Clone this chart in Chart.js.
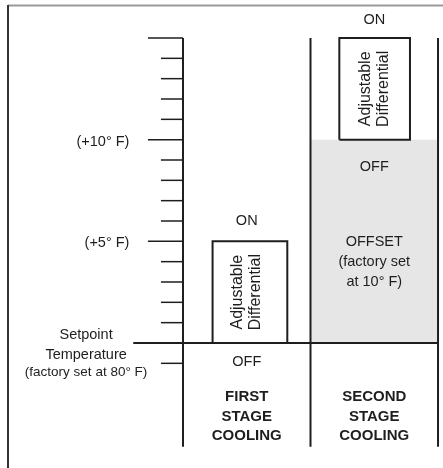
<!DOCTYPE html>
<html>
<head>
<meta charset="utf-8">
<script src="https://cdn.jsdelivr.net/npm/chart.js@4.4.0/dist/chart.umd.min.js"></script>
<style>
    html, body { margin: 0; padding: 0; background: #fff; }
    canvas { display: block; }
</style>
</head>
<body>
<canvas id="chartDiagram" width="443" height="468"></canvas>
<script>
// values are degrees F above the setpoint, x is the stage column (0..2)
const tickValues = [-1, 0, 1, 2, 3, 4, 5, 6, 7, 8, 9, 10, 11, 12, 13, 14, 15];
const majorTicks = [5, 10, 15];
const tickLabelValues = [10, 5];
const tickLabelTexts = ['(+10° F)', '(+5° F)'];
const stageNames = [['FIRST', 'STAGE', 'COOLING'], ['SECOND', 'STAGE', 'COOLING']];
const differentialFrom = [0, 10];
const differentialTo = [5, 15];
const offsetRange = [0, 10];
const offsetText = ['OFFSET', '(factory set', 'at 10° F)'];
const setpointText = ['Setpoint', 'Temperature', '(factory set at 80° F)'];
const columnEdges = [0, 1, 2];
const axisRange = [-5.1, 15];

const INK = '#1e1e1e';
const FONT = '"Liberation Sans", Arial, Helvetica, sans-serif';

function segment(x1, y1, x2, y2, width) {
    return {
        data: [{x: x1, y: y1}, {x: x2, y: y2}],
        borderColor: INK,
        borderWidth: width,
        fill: false,
        pointRadius: 0,
    };
}

const datasets = [];

// gray offset band in the second stage column
datasets.push({
    data: [{x: 1, y: offsetRange[1]}, {x: 2, y: offsetRange[1]}],
    borderWidth: 0,
    borderColor: 'rgba(0,0,0,0)',
    backgroundColor: '#e6e6e6',
    fill: {value: offsetRange[0]},
    pointRadius: 0,
    order: 10,
});

// stage column lines
columnEdges.forEach(x => datasets.push(segment(x, axisRange[0], x, axisRange[1], 2)));

// ticks (setpoint one runs across the whole diagram)
tickValues.forEach(v => {
    if (v === 0) {
        datasets.push(segment(-0.39, 0, 2, 0, 2));
    } else {
        const len = majorTicks.includes(v) ? 0.275 : 0.173;
        datasets.push(segment(-len, v, 0, v, 1.5));
    }
});

// adjustable differential boxes
const boxCenters = [0.525, 1.503];
const boxHalf = [0.293, 0.277];
differentialFrom.forEach((from, i) => {
    const to = differentialTo[i];
    const l = boxCenters[i] - boxHalf[i], r = boxCenters[i] + boxHalf[i];
    datasets.push({
        data: [{x: l, y: from}, {x: l, y: to}, {x: r, y: to}, {x: r, y: from}, {x: l, y: from}],
        borderColor: INK,
        borderWidth: 2,
        fill: false,
        pointRadius: 0,
    });
});

const framePlugin = {
    id: 'frame',
    beforeDraw(chart) {
        const ctx = chart.ctx;
        ctx.save();
        ctx.fillStyle = '#fff';
        ctx.fillRect(0, 0, chart.width, chart.height);
        ctx.lineWidth = 2;
        ctx.strokeStyle = '#999';
        ctx.beginPath();
        ctx.moveTo(8, 5.5);
        ctx.lineTo(chart.width, 5.5);
        ctx.stroke();
        ctx.strokeStyle = '#333';
        ctx.beginPath();
        ctx.moveTo(8, 5);
        ctx.lineTo(8, chart.height);
        ctx.stroke();
        ctx.restore();
    }
};

const textPlugin = {
    id: 'diagramText',
    afterDatasetsDraw(chart) {
        const {ctx, scales: {x, y}} = chart;
        ctx.save();
        ctx.fillStyle = INK;
        ctx.textBaseline = 'middle';

        function put(text, xv, yv, font, align) {
            ctx.font = font;
            ctx.textAlign = align || 'center';
            ctx.fillText(text, x.getPixelForValue(xv), y.getPixelForValue(yv));
        }
        const reg = '14.5px ' + FONT;

        // tick labels
        tickLabelValues.forEach((v, i) => put(tickLabelTexts[i], -0.42, v - 0.1, reg, 'right'));

        // setpoint label
        put(setpointText[0], -0.76, 0.39, reg);
        put(setpointText[1], -0.76, -0.59, reg);
        put(setpointText[2], -0.76, -1.43, '13.5px ' + FONT);

        // ON / OFF
        put('ON', 0.5, differentialTo[0] + 1.0, reg);
        put('OFF', 0.5, differentialFrom[0] - 0.93, reg);
        put('ON', 1.5, differentialTo[1] + 0.9, reg);
        put('OFF', 1.5, differentialFrom[1] - 1.34, reg);

        // offset description
        [4.95, 4.0, 3.0].forEach((yv, i) => put(offsetText[i], 1.5, yv, reg));

        // stage names
        stageNames.forEach((lines, s) => {
            [-2.67, -3.64, -4.55].forEach((yv, i) => put(lines[i], s + 0.5, yv, 'bold 15px ' + FONT));
        });

        // rotated box text
        differentialFrom.forEach((from, i) => {
            const cx = x.getPixelForValue(i + 0.5);
            const cy = y.getPixelForValue((from + differentialTo[i]) / 2);
            ctx.save();
            ctx.translate(cx, cy);
            ctx.rotate(-Math.PI / 2);
            ctx.font = '16px ' + FONT;
            ctx.textAlign = 'center';
            ctx.fillText('Adjustable', 0, -9);
            ctx.fillText('Differential', 0, 9);
            ctx.restore();
        });
        ctx.restore();
    }
};

const chartDiagram = new Chart(document.getElementById('chartDiagram'), {
    type: 'line',
    data: {datasets},
    options: {
        responsive: false,
        animation: false,
        devicePixelRatio: 1,
        layout: {padding: 0},
        scales: {
            x: {type: 'linear', min: -1.435, max: 2.039, display: false},
            y: {type: 'linear', min: -6.148, max: 16.869, display: false},
        },
        plugins: {
            legend: {display: false},
            tooltip: {enabled: false},
        },
        elements: {
            line: {tension: 0},
        },
    },
    plugins: [framePlugin, textPlugin],
});
</script>
</body>
</html>
